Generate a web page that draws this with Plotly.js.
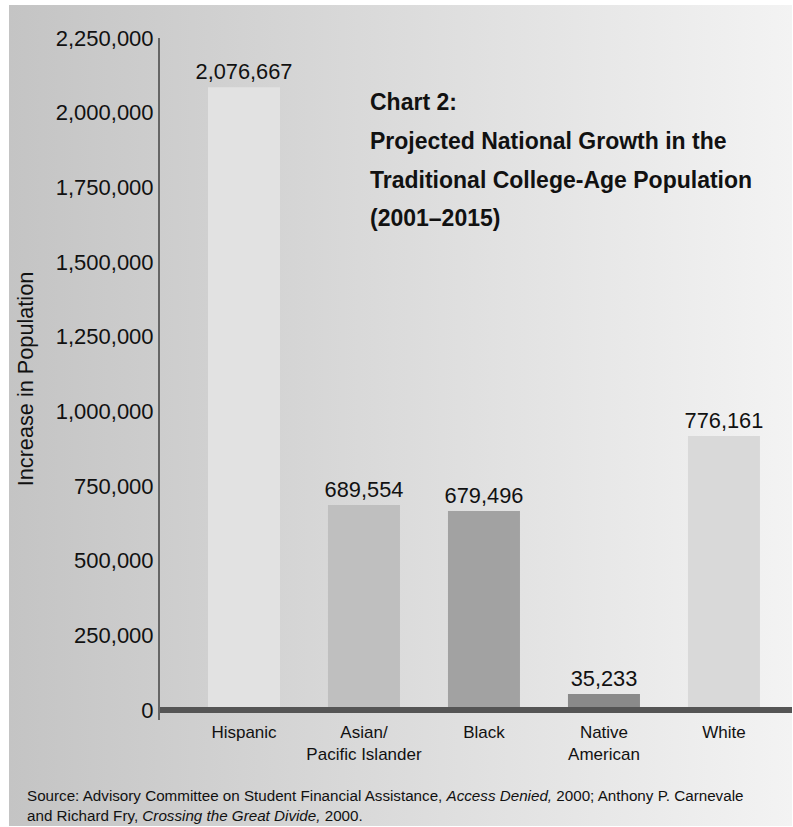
<!DOCTYPE html>
<html><head><meta charset="utf-8">
<script src="https://cdn.plot.ly/plotly-3.0.1.min.js"></script>
<style>
html,body{margin:0;padding:0;background:#fff;}
#bg{position:absolute;left:9px;top:5px;width:783px;height:821px;background:linear-gradient(to right,#c4c4c4,#f3f3f3);}
#chart{position:absolute;left:0;top:0;width:793px;height:827px;}
</style></head><body>
<div id="bg"></div><div id="chart"></div>
<script>
const categories = ["Hispanic", "Asian/<br>Pacific Islander", "Black", "Native<br>American", "White"];
const barHeights = [2085000, 686000, 666000, 53600, 917000];
const valueLabels = ["2,076,667", "689,554", "679,496", "35,233", "776,161"];
const barColors = ["#e2e2e2", "#bfbfbf", "#a2a2a2", "#8a8a8a", "#d9d9d9"];
const yTickValues = [0, 250000, 500000, 750000, 1000000, 1250000, 1500000, 1750000, 2000000, 2250000];
const yTickLabels = ["0", "250,000", "500,000", "750,000", "1,000,000", "1,250,000", "1,500,000", "1,750,000", "2,000,000", "2,250,000"];
const titleLines = ["Chart 2:", "Projected National Growth in the", "Traditional College-Age Population", "(2001–2015)"];
const sourceLines = ["Source: Advisory Committee on Student Financial Assistance, <i>Access Denied,</i> 2000; Anthony P. Carnevale", "and Richard Fry, <i>Crossing the Great Divide,</i> 2000."];
const yTitle = "Increase in Population";

const SANS = "'Liberation Sans', Arial, sans-serif";
const INK = "#111111";

const titleY = [0.906, 0.849, 0.792, 0.736];

const annotations = [];
titleLines.forEach((t, i) => annotations.push({
  text: "<b>" + t + "</b>", xref: "paper", yref: "paper", x: 0.3291, y: titleY[i],
  xanchor: "left", yanchor: "middle", showarrow: false,
  font: {family: SANS, size: 23, color: INK}
}));
annotations.push({
  text: sourceLines.join("<br>"), xref: "paper", yref: "paper", x: -0.2136, y: -0.1252,
  xanchor: "left", yanchor: "middle", align: "left", showarrow: false,
  font: {family: SANS, size: 15.2, color: INK}
});

const trace = {
  type: "bar",
  x: categories,
  y: barHeights,
  text: valueLabels,
  textposition: "outside",
  constraintext: "none",
  cliponaxis: false,
  textfont: {family: SANS, size: 21.8, color: INK},
  marker: {color: barColors, line: {width: 0}},
  width: 0.6,
  hoverinfo: "none"
};

const layout = {
  width: 793, height: 827,
  margin: {l: 160, r: 1, t: 38, b: 107, pad: 0},
  paper_bgcolor: "rgba(0,0,0,0)",
  plot_bgcolor: "rgba(0,0,0,0)",
  showlegend: false,
  xaxis: {
    type: "category", range: [-0.7, 4.567], ticks: "", showgrid: false, zeroline: false, showline: false,
    tickfont: {family: SANS, size: 17, color: INK}, fixedrange: true
  },
  yaxis: {
    range: [-33482, 2250000], tickvals: yTickValues, ticktext: yTickLabels, ticks: "",
    showgrid: false, showline: true, linecolor: "#666666", linewidth: 2,
    zeroline: true, zerolinecolor: "#555555", zerolinewidth: 6, zerolinelayer: "above traces",
    tickfont: {family: SANS, size: 22, color: INK}, fixedrange: true, automargin: false,
    title: {text: yTitle, standoff: 16, font: {family: SANS, size: 21.7, color: INK}}
  },
  annotations: annotations
};

Plotly.newPlot("chart", [trace], layout, {displayModeBar: false, staticPlot: true});
</script>
</body></html>
